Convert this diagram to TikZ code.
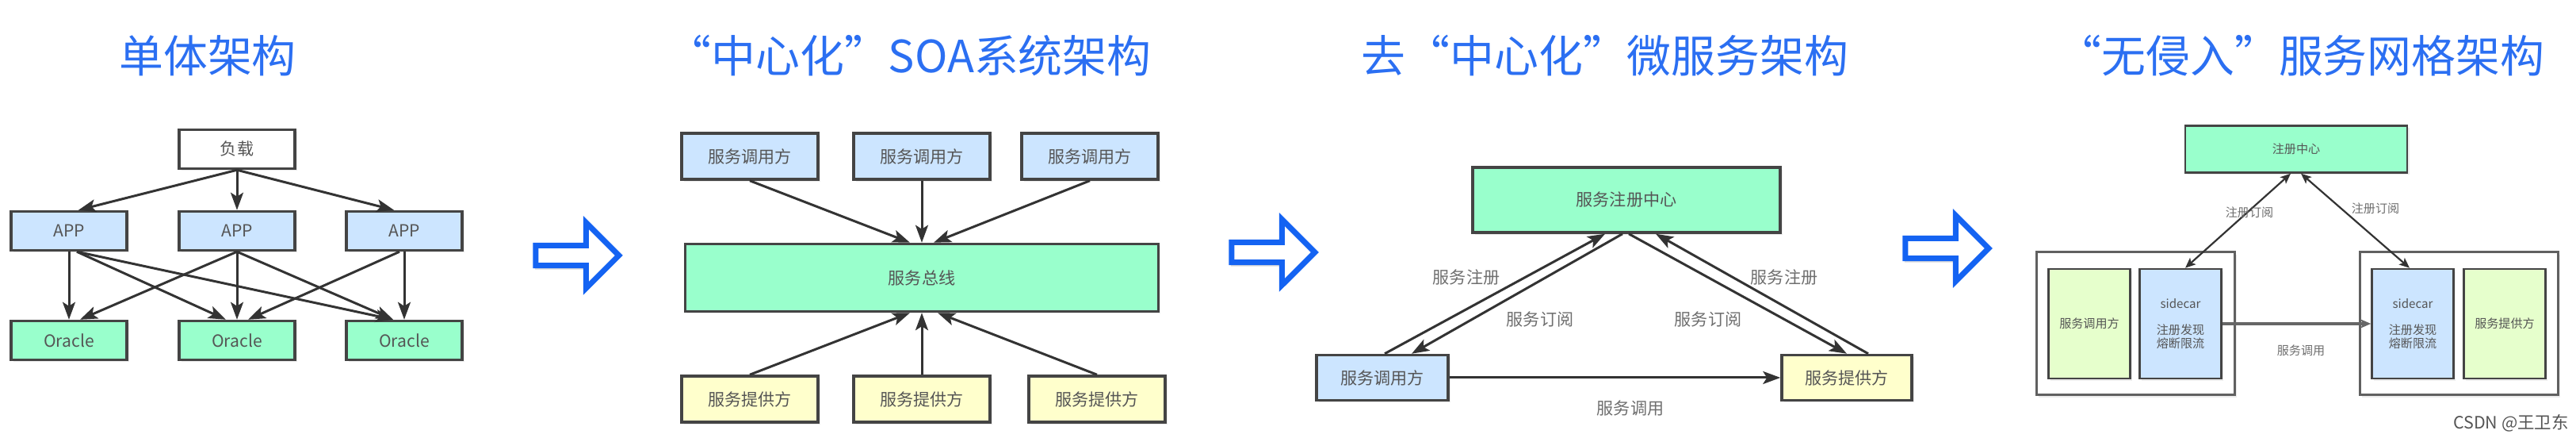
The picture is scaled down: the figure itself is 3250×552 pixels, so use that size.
\documentclass[tikz,border=0pt]{standalone}
\usepackage{fontspec}
\setmainfont{Noto Sans CJK SC}
\usepackage{xcolor}
\definecolor{ttl}{HTML}{2B6FF2}
\definecolor{bigb}{HTML}{1463F2}
\definecolor{edge}{HTML}{444444}
\definecolor{wire}{HTML}{333333}
\definecolor{txt}{HTML}{555555}
\definecolor{mute}{HTML}{6E6E6E}
\definecolor{bluef}{HTML}{CCE5FF}
\definecolor{greenf}{HTML}{99FFCC}
\definecolor{yellowf}{HTML}{FFFFCC}
\definecolor{limef}{HTML}{E6FFCC}
\usetikzlibrary{arrows.meta,positioning,calc,shapes.arrows,shadows}
\tikzset{
  >={Stealth[length=2.2mm,width=1.6mm,inset=0.5mm]},
  box/.style={draw=edge,line width=0.35mm,inner sep=0pt,minimum width=14.6mm,minimum height=4.9mm,font=\fontsize{6}{7}\selectfont,text=txt,align=center,fill=white,drop shadow={opacity=0.15,shadow xshift=0.25mm,shadow yshift=-0.3mm}},
  bbox/.style={box,fill=bluef},
  gbox/.style={box,fill=greenf},
  ybox/.style={box,fill=yellowf},
  lbox/.style={box,fill=limef},
  sbox/.style={line width=0.25mm,font=\fontsize{4.3}{4.9}\selectfont},
  callsz/.style={minimum width=17.2mm,minimum height=5.8mm},
  tallsz/.style={minimum width=10.3mm,minimum height=13.8mm},
  podsz/.style={draw=edge!85,line width=0.3mm,minimum width=25mm,minimum height=18mm},
  ptitle/.style={font=\fontsize{15.9}{18}\selectfont,text=ttl,inner sep=0pt},
  lab/.style={font=\fontsize{6}{7}\selectfont,text=mute,inner sep=0pt},
  slab/.style={lab,font=\fontsize{4.3}{5}\selectfont},
  arr/.style={->,draw=wire,line width=0.3mm},
  sarr/.style={draw=wire,line width=0.22mm,>={Stealth[length=1.3mm,width=1.1mm,inset=0.3mm]}},
  bigarr/.style={single arrow,draw=bigb,fill=white,line width=0.7mm,inner sep=0.5mm,minimum height=10.5mm,minimum width=8.3mm,single arrow head extend=1.95mm,drop shadow={opacity=0.3,shadow xshift=-0.1mm,shadow yshift=-0.5mm}},
}
\begin{document}
\begin{tikzpicture}[x=0.1mm,y=0.1mm]
\useasboundingbox (0,0) rectangle (3250,552);
% Monolith
\node[ptitle] (t1) at (262,482) {单体架构};
\node[box] (lb) at (299,364) {负载};
\node[bbox] (app1) at (87,261) {APP};
\node[bbox] (app2) at (299,261) {APP};
\node[bbox] (app3) at (510,261) {APP};
\node[gbox] (db1) at (87,123) {Oracle};
\node[gbox] (db2) at (299,123) {Oracle};
\node[gbox] (db3) at (510,123) {Oracle};
\foreach \a/\s in {app1/12,app2/0,app3/-13}
  \draw[arr] (lb.south) -- ($(\a.north)+(\s,0)$);
\foreach \a/\u/\d/\s in {app1/0/db1/0,app1/10/db2/-14,app1/10/db3/-14,app2/0/db1/14,app2/0/db2/0,app2/0/db3/-14,app3/-6/db2/14,app3/0/db3/0}
  \draw[arr] ($(\a.south)+(\u,0)$) -- ($(\d.north)+(\s,0)$);
\node[bigarr] (go1) at (722,230) {};
% Centralised SOA
\node[ptitle] (t2) at (1147,482) {“中心化”SOA系统架构};
\node[bbox,callsz] (c1) at (946,355) {服务调用方};
\node[bbox,callsz] (c2) at (1163,355) {服务调用方};
\node[bbox,callsz] (c3) at (1375,355) {服务调用方};
\node[ybox,callsz] (p1) at (946,49) {服务提供方};
\node[ybox,callsz] (p2) at (1163,49) {服务提供方};
\node[ybox,callsz] (p3) at (1384,49) {服务提供方};
\node[gbox,minimum width=59.7mm,minimum height=8.5mm] (bus) at (1163,202) {服务总线};
\foreach \c/\s in {c1/-15,c2/0,c3/15}
  \draw[arr] (\c.south) -- ($(bus.north)+(\s,0)$);
\foreach \p/\s in {p1/-15,p2/0,p3/20}
  \draw[arr] (\p.north) -- ($(bus.south)+(\s,0)$);
\node[bigarr] (go2) at (1600,234) {};
% Decentralised microservices
\node[ptitle] (t3) at (2025,482) {去“中心化”微服务架构};
\node[gbox,minimum width=38.8mm,minimum height=8.2mm] (reg) at (2052,300) {服务注册中心};
\node[bbox,minimum width=16.6mm,minimum height=5.7mm] (cons) at (1744,76) {服务调用方};
\node[ybox,minimum width=16.4mm,minimum height=5.7mm] (prov) at (2330,76) {服务提供方};
\draw[arr] ($(cons.north)+(3,0)$) -- ($(reg.south)+(-27,0)$);
\draw[arr] ($(reg.south)+(-5,0)$) -- ($(cons.north)+(37,0)$);
\draw[arr] ($(reg.south)+(3,0)$) -- (prov.north);
\draw[arr] ($(prov.north)+(27,0)$) -- ($(reg.south)+(37,0)$);
\draw[arr] (cons.east) -- (prov.west);
\node[lab] (r1) at (1850,202) {服务注册};
\node[lab] (s1) at (1943,149) {服务订阅};
\node[lab] (s2) at (2155,149) {服务订阅};
\node[lab] (r2) at (2251,202) {服务注册};
\node[lab] (call) at (2057,37) {服务调用};
\node[bigarr] (go3) at (2450,239) {};
% Service mesh
\node[ptitle] (t4) at (2903,482) {“无侵入”服务网格架构};
\node[gbox,sbox,minimum width=28mm,minimum height=5.9mm] (reg4) at (2897,364) {注册中心};
\node[box,sbox,podsz] (podL) at (2694,144) {};
\node[box,sbox,podsz] (podR) at (3102,144) {};
\node[lbox,sbox,tallsz] (app4) at (2636,144) {服务调用方};
\node[bbox,sbox,tallsz] (carL) at (2751,144) {sidecar\\[1.6mm]注册发现\\熔断限流};
\node[bbox,sbox,tallsz] (carR) at (3044,144) {sidecar\\[1.6mm]注册发现\\熔断限流};
\node[lbox,sbox,tallsz] (srv4) at (3160,144) {服务提供方};
\draw[sarr,<->] ($(reg4.south)+(-7,0)$) -- ($(carL.north)+(6,0)$);
\draw[sarr,<->] ($(reg4.south)+(6,0)$) -- ($(carR.north)+(-4,0)$);
\draw[sarr,->,draw=wire!75,line width=0.35mm] (carL.east) -- (carR.west);
\node[slab] (sub1) at (2838,284) {注册订阅};
\node[slab] (sub2) at (2997,289) {注册订阅};
\node[slab] (call4) at (2903,110) {服务调用};
\node[font=\fontsize{6.1}{7}\selectfont,text=txt,inner sep=0pt] (wm) at (3168,19) {CSDN @王卫东};
\end{tikzpicture}
\end{document}
